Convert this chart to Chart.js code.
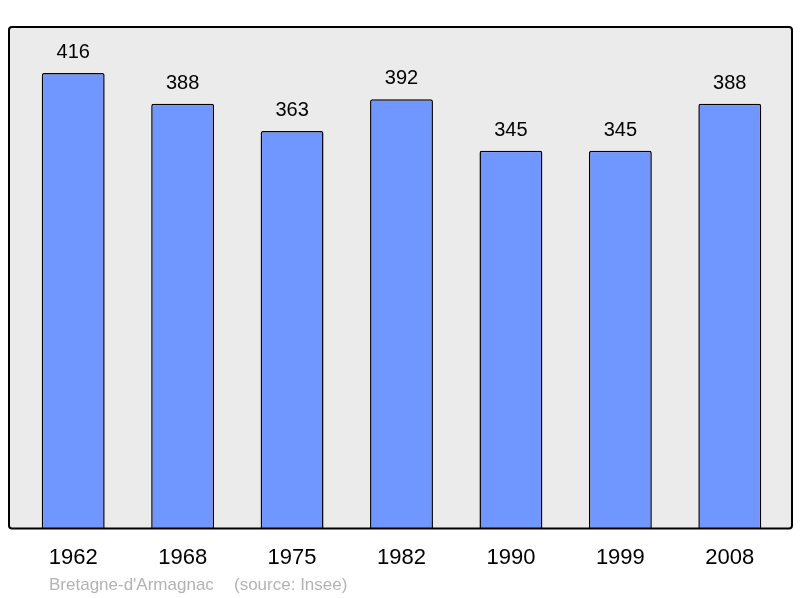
<!DOCTYPE html>
<html>
<head>
<meta charset="utf-8">
<script src="https://cdn.jsdelivr.net/npm/chart.js@4/dist/chart.umd.min.js"></script>
<style>
  html, body { margin: 0; padding: 0; background: #fff; }
  #wrap { width: 800px; height: 598px; }
</style>
</head>
<body>
<div id="wrap"><canvas id="myChart"></canvas></div>
<script>
const years = ['1962', '1968', '1975', '1982', '1990', '1999', '2008'];
const population = [416, 388, 363, 392, 345, 345, 388];
const townName = "Bretagne-d'Armagnac";
const sourceText = '(source: Insee)';

const FONT = "'Liberation Sans', Arial, sans-serif";

// grey box behind the bars, a bit wider than the category area
function boxPath(ctx, area) {
    ctx.beginPath();
    ctx.roundRect(area.left - 9.5, area.top, area.width + 17, area.height, 3);
}

const frame = {
    id: 'frame',
    beforeDatasetsDraw(chart) {
        const { ctx, chartArea } = chart;
        ctx.save();
        ctx.fillStyle = '#ebebeb';
        boxPath(ctx, chartArea);
        ctx.fill();
        ctx.restore();
    },
    afterDatasetsDraw(chart) {
        const { ctx, chartArea } = chart;
        ctx.save();
        ctx.strokeStyle = '#000';
        ctx.lineWidth = 2;
        boxPath(ctx, chartArea);
        ctx.stroke();

        // values above the bars
        ctx.fillStyle = '#000';
        ctx.font = '20px ' + FONT;
        ctx.textAlign = 'center';
        ctx.textBaseline = 'alphabetic';
        chart.getDatasetMeta(0).data.forEach((bar, i) => {
            ctx.fillText(population[i], bar.x, bar.y - 15);
        });

        // footer
        ctx.fillStyle = '#b3b3b3';
        ctx.font = '17px ' + FONT;
        ctx.textAlign = 'left';
        ctx.fillText(townName, 49, 590);
        ctx.fillText(sourceText, 234, 590);
        ctx.restore();
    }
};

const data = {
    labels: years,
    datasets: [{
        data: population,
        backgroundColor: '#7097ff',
        borderColor: '#000',
        borderWidth: 1.5,
        borderSkipped: 'bottom',
        borderRadius: 2,
        barPercentage: 0.575,
        categoryPercentage: 1
    }]
};

const config = {
    type: 'bar',
    data,
    plugins: [frame],
    options: {
        responsive: true,
        maintainAspectRatio: false,
        animation: false,
        layout: {
            padding: { left: 18.5, right: 15.5, top: 27, bottom: 11 }
        },
        scales: {
            y: {
                display: false,
                min: 0,
                max: 458
            },
            x: {
                grid: { display: false, drawTicks: false },
                border: { display: false },
                ticks: {
                    color: '#000',
                    padding: 16,
                    font: { size: 22, family: FONT }
                }
            }
        },
        plugins: {
            legend: { display: false },
            tooltip: { enabled: false }
        }
    }
};

var myChart = new Chart(
    document.getElementById('myChart'),
    config
);
</script>
</body>
</html>
